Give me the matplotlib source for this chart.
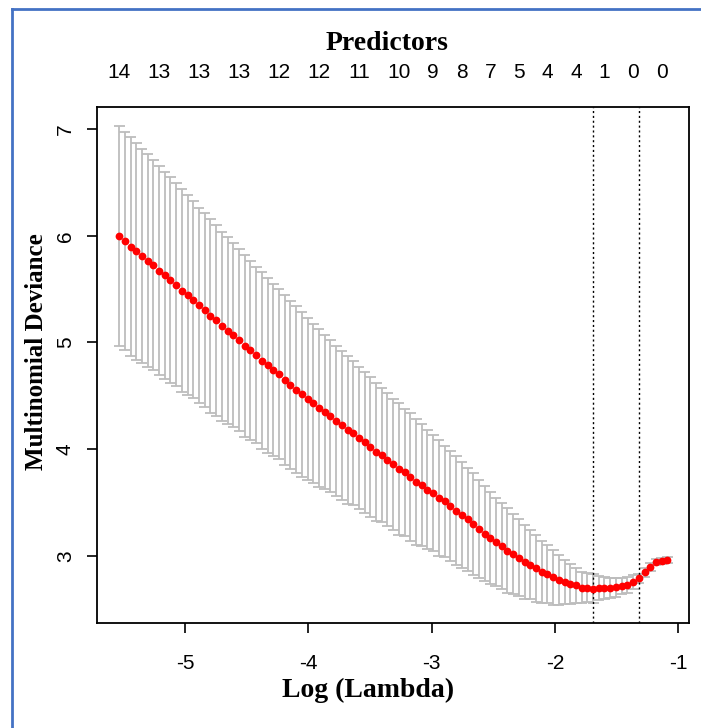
import matplotlib
matplotlib.use("Agg")
import matplotlib.pyplot as plt
from matplotlib.lines import Line2D

# cross-validation curve (log lambda, mean deviance, standard error)
log_lambda = [
    -5.538, -5.492, -5.445, -5.399, -5.353, -5.306, -5.260, -5.213, -5.167, -5.121,
    -5.074, -5.028, -4.982, -4.935, -4.889, -4.842, -4.796, -4.750, -4.703, -4.657,
    -4.611, -4.564, -4.518, -4.471, -4.425, -4.379, -4.332, -4.286, -4.240, -4.193,
    -4.147, -4.101, -4.054, -4.008, -3.961, -3.915, -3.869, -3.822, -3.776, -3.730,
    -3.683, -3.637, -3.590, -3.544, -3.498, -3.451, -3.405, -3.359, -3.312, -3.266,
    -3.220, -3.173, -3.127, -3.080, -3.034, -2.988, -2.941, -2.895, -2.849, -2.802,
    -2.756, -2.709, -2.663, -2.617, -2.570, -2.524, -2.478, -2.431, -2.385, -2.339,
    -2.292, -2.246, -2.199, -2.153, -2.107, -2.060, -2.014, -1.968, -1.921, -1.875,
    -1.828, -1.782, -1.736, -1.689, -1.643, -1.597, -1.550, -1.504, -1.457, -1.411,
    -1.365, -1.318, -1.272, -1.226, -1.179, -1.133, -1.087,
]
cvm = [
    5.998, 5.951, 5.898, 5.855, 5.811, 5.766, 5.726, 5.673, 5.629, 5.585,
    5.541, 5.485, 5.445, 5.401, 5.348, 5.301, 5.248, 5.207, 5.151, 5.110,
    5.067, 5.023, 4.966, 4.926, 4.882, 4.828, 4.785, 4.744, 4.701, 4.647,
    4.600, 4.556, 4.513, 4.469, 4.429, 4.382, 4.350, 4.310, 4.265, 4.222,
    4.178, 4.150, 4.103, 4.063, 4.019, 3.975, 3.944, 3.900, 3.856, 3.812,
    3.781, 3.737, 3.693, 3.662, 3.620, 3.587, 3.543, 3.510, 3.467, 3.423,
    3.381, 3.340, 3.296, 3.252, 3.208, 3.165, 3.130, 3.090, 3.046, 3.015,
    2.980, 2.937, 2.915, 2.881, 2.849, 2.827, 2.796, 2.771, 2.752, 2.732,
    2.722, 2.701, 2.701, 2.690, 2.699, 2.699, 2.699, 2.703, 2.712, 2.721,
    2.755, 2.787, 2.843, 2.893, 2.940, 2.949, 2.959,
]
cvsd = [
    1.035, 1.026, 1.026, 1.016, 1.006, 0.999, 0.982, 0.982, 0.972, 0.964,
    0.951, 0.951, 0.938, 0.925, 0.916, 0.910, 0.910, 0.894, 0.887, 0.876,
    0.863, 0.853, 0.854, 0.840, 0.828, 0.830, 0.819, 0.807, 0.798, 0.796,
    0.790, 0.783, 0.772, 0.760, 0.746, 0.741, 0.722, 0.712, 0.704, 0.700,
    0.694, 0.676, 0.669, 0.662, 0.659, 0.647, 0.625, 0.623, 0.616, 0.617,
    0.597, 0.598, 0.591, 0.573, 0.558, 0.544, 0.541, 0.521, 0.517, 0.511,
    0.494, 0.482, 0.476, 0.457, 0.445, 0.429, 0.413, 0.401, 0.398, 0.378,
    0.360, 0.347, 0.325, 0.312, 0.291, 0.272, 0.257, 0.232, 0.207, 0.186,
    0.165, 0.148, 0.133, 0.135, 0.110, 0.103, 0.094, 0.087, 0.075, 0.075,
    0.063, 0.040, 0.040, 0.035, 0.030, 0.030, 0.030,
]

# number of predictors shown on the top axis
label_idx = [0, 7, 14, 21, 28, 35, 42, 49, 55, 60, 65, 70, 75, 80, 85, 90, 95]
n_predictors = [14, 13, 13, 13, 12, 12, 11, 10, 9, 8, 7, 5, 4, 4, 1, 0, 0]

lambda_min = -1.689
lambda_1se = -1.318

serif = ['Liberation Serif', 'DejaVu Serif']
sans = ['Liberation Sans', 'DejaVu Sans']
plt.rcParams['font.family'] = sans
plt.rcParams['axes.unicode_minus'] = False

W, H = 701, 728
fig = plt.figure(figsize=(W / 100, H / 100), dpi=100)
ax = fig.add_axes([97 / W, 1 - 623 / H, (689 - 97) / W, (623 - 107) / H])

upper = [m + s for m, s in zip(cvm, cvsd)]
lower = [m - s for m, s in zip(cvm, cvsd)]
w = 0.01 * (max(log_lambda) - min(log_lambda))
left = [x - w for x in log_lambda]
right = [x + w for x in log_lambda]

grey = '#bdbdbd'
ax.vlines(log_lambda, lower, upper, color=grey, lw=1.3)
ax.hlines(upper, left, right, color=grey, lw=1.3)
ax.hlines(lower, left, right, color=grey, lw=1.3)
ax.plot(log_lambda, cvm, 'o', color='red', ms=5.6, mec='none', zorder=3)

ax.axvline(lambda_min, color='black', ls=(0, (1.5, 2)), lw=1)
ax.axvline(lambda_1se, color='black', ls=(0, (1.5, 2)), lw=1)

ax.set_xlim(-5.717, -0.911)
ax.set_ylim(2.369, 7.208)
ax.set_xticks([-5, -4, -3, -2, -1])
ax.set_yticks([3, 4, 5, 6, 7])
ax.tick_params(axis='x', length=7, width=1.2, labelsize=15, pad=15)
ax.tick_params(axis='y', length=7, width=1.2, labelsize=15, pad=9, labelrotation=90)
for lab in ax.get_yticklabels():
    lab.set_va('center')
for sp in ax.spines.values():
    sp.set_linewidth(1.3)

for i, n in zip(label_idx, n_predictors):
    ax.text(log_lambda[i], (623 - 73) / 516, str(n), transform=ax.get_xaxis_transform(),
            ha='center', va='center', fontsize=15)

fig.text(387 / W, 1 - 43 / H, 'Predictors', family=serif, weight='bold',
         fontsize=20, ha='center', va='center')
fig.text(368 / W, 1 - 690 / H, 'Log (Lambda)', family=serif, weight='bold',
         fontsize=20, ha='center', va='center')
fig.text(37 / W, 1 - 352 / H, 'Multinomial Deviance', family=serif, weight='bold',
         fontsize=18, ha='center', va='center', rotation=90)

# blue frame of the screenshot
blue = '#4472C4'
fig.add_artist(Line2D([12 / W, 12 / W], [0, 1 - 9 / H], transform=fig.transFigure, color=blue, lw=2))
fig.add_artist(Line2D([12 / W, 1], [1 - 9 / H, 1 - 9 / H], transform=fig.transFigure, color=blue, lw=2))

fig.savefig('out.png', dpi=100)
